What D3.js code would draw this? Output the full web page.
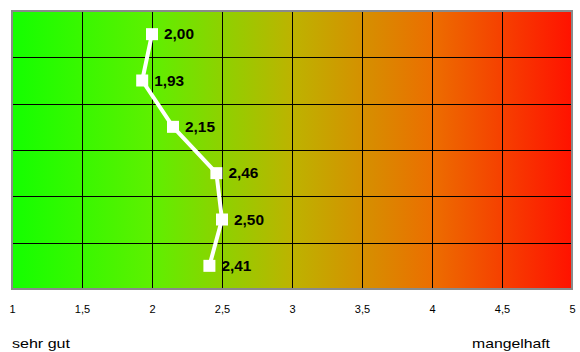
<!DOCTYPE html>
<html><head><meta charset="utf-8">
<script src="https://cdn.jsdelivr.net/npm/d3@7"></script>
<style>body{margin:0;background:#fff}svg{display:block}</style>
</head><body>
<svg id="c" width="580" height="352"></svg>
<script>
const rows = ["r1","r2","r3","r4","r5","r6"];
const values = [2.00, 1.93, 2.15, 2.46, 2.50, 2.41];
const xTicks = [1, 1.5, 2, 2.5, 3, 3.5, 4, 4.5, 5];
const leftLabel = "sehr gut";
const rightLabel = "mangelhaft";
const fmt = v => d3.format(".2f")(v).replace(".", ",");
const tickFmt = v => String(v).replace(".", ",");

const svg = d3.select("#c");
const L = 12, R = 572, T = 11, B = 289;
const x = d3.scaleLinear().domain([1, 5]).range([L, R]);
const y = d3.scaleBand().domain(rows).range([T, B]);

const defs = svg.append("defs");
const g = defs.append("linearGradient").attr("id", "bg").attr("x1", "0").attr("x2", "1").attr("y1", "0").attr("y2", "0");
[[0, "#14ff00"], [0.25, "#5ef000"], [0.5, "#bdb300"], [0.75, "#ec6e00"], [1, "#ff1200"]]
  .forEach(([o, c]) => g.append("stop").attr("offset", o).attr("stop-color", c));

svg.append("rect").attr("x", L).attr("y", T).attr("width", R - L).attr("height", B - T)
  .attr("fill", "url(#bg)");

// vertical grid
svg.append("g").selectAll("line").data(xTicks.slice(1, -1)).join("line")
  .attr("x1", d => Math.round(x(d)) + 0.5).attr("x2", d => Math.round(x(d)) + 0.5)
  .attr("y1", T).attr("y2", B).attr("stroke", "#000").attr("stroke-width", 1);
// horizontal grid
svg.append("g").selectAll("line").data(rows.slice(1)).join("line")
  .attr("x1", L).attr("x2", R)
  .attr("y1", d => Math.round(y(d)) + 0.5).attr("y2", d => Math.round(y(d)) + 0.5)
  .attr("stroke", "#000").attr("stroke-width", 1);

// border
svg.append("rect").attr("x", L).attr("y", T).attr("width", R - L).attr("height", B - T)
  .attr("fill", "none").attr("stroke", "#8a8a8a").attr("stroke-width", 2);

// axis labels
const ax = svg.append("g").attr("transform", `translate(0,${B})`)
  .call(d3.axisBottom(x).tickValues(xTicks).tickFormat(tickFmt).tickSize(0).tickPadding(16));
ax.select(".domain").remove();
ax.selectAll("text").attr("font-family", "Liberation Sans, Arial, sans-serif").attr("font-size", 11).attr("fill", "#000");

// line
const pts = rows.map((r, i) => [x(values[i]), y(r) + y.bandwidth() / 2]);
svg.append("path").attr("d", d3.line()(pts)).attr("fill", "none")
  .attr("stroke", "#fff").attr("stroke-width", 4).attr("stroke-linejoin", "round");
svg.append("g").selectAll("rect").data(pts).join("rect")
  .attr("x", d => d[0] - 6).attr("y", d => d[1] - 6).attr("width", 12).attr("height", 12).attr("fill", "#fff");
svg.append("g").selectAll("text").data(pts).join("text")
  .attr("x", d => d[0] + 12).attr("y", d => d[1] + 5)
  .attr("font-family", "Liberation Sans, Arial, sans-serif").attr("font-size", 14.5).attr("font-weight", "bold")
  .attr("textLength", 30).attr("lengthAdjust", "spacingAndGlyphs")
  .attr("fill", "#000").text((d, i) => fmt(values[i]));

svg.append("text").attr("x", 12).attr("y", 348).attr("font-family", "Liberation Sans, Arial, sans-serif")
  .attr("font-size", 13).attr("textLength", 58).attr("lengthAdjust", "spacingAndGlyphs").text(leftLabel);
svg.append("text").attr("x", 472).attr("y", 348).attr("font-family", "Liberation Sans, Arial, sans-serif")
  .attr("font-size", 13).attr("textLength", 78).attr("lengthAdjust", "spacingAndGlyphs").text(rightLabel);
</script>
</body></html>
